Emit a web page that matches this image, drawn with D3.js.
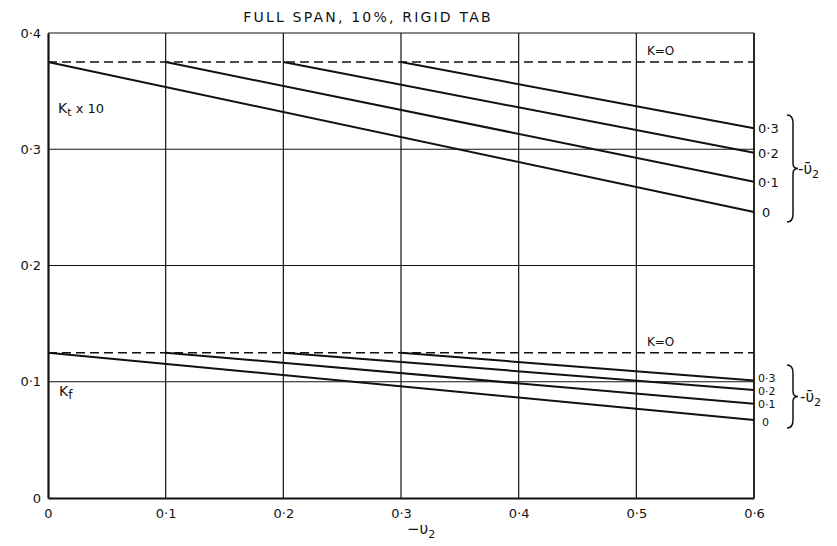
<!DOCTYPE html>
<html>
<head>
<meta charset="utf-8">
<script src="https://cdn.jsdelivr.net/npm/d3@7"></script>
<style>
  body { margin: 0; background: #fff; }
  text { font-family: "DejaVu Sans", sans-serif; fill: #111; }
</style>
</head>
<body>
<div id="chart"></div>
<script>
// Chart data
var xTicks = [0, 0.1, 0.2, 0.3, 0.4, 0.5, 0.6];
var yTicks = [0, 0.1, 0.2, 0.3, 0.4];
var tabValues = [0, 0.1, 0.2, 0.3];          // -v2 bar, where each line starts
var tabLabels = ["0", "0·1", "0·2", "0·3"];
var ktStart = 0.375;                          // Kt x 10, K = 0
var ktEnd = [0.246, 0.272, 0.297, 0.318];     // at -v2 = 0.6
var kfStart = 0.125;                          // Kf, K = 0
var kfEnd = [0.067, 0.081, 0.093, 0.101];     // at -v2 = 0.6
var xEndValue = 0.6;

var margin = {top: 33, right: 83, bottom: 48, left: 48},
    width = 837 - margin.left - margin.right,
    height = 546 - margin.top - margin.bottom;

var svg = d3.select("#chart")
  .append("svg")
    .attr("width", 837)
    .attr("height", 546)
  .append("g")
    .attr("transform", "translate(" + margin.left + "," + margin.top + ")");

var x = d3.scaleLinear().domain([0, 0.6]).range([0, width]);
var y = d3.scaleLinear().domain([0, 0.4]).range([height, 0]);

function fmt(d) { return d === 0 ? "0" : d3.format(".1f")(d).replace(".", "·"); }

// Title
svg.append("text")
  .attr("x", 320)
  .attr("y", -11)
  .attr("text-anchor", "middle")
  .style("font-size", "14px")
  .style("letter-spacing", "2.2px")
  .text("FULL SPAN, 10%, RIGID TAB");

// Grid lines
svg.append("g")
  .selectAll("line.vg")
  .data(xTicks.slice(1))
  .enter().append("line")
    .attr("x1", d => x(d)).attr("x2", d => x(d))
    .attr("y1", 0).attr("y2", height)
    .attr("stroke", "#111").attr("stroke-width", 1.2);

svg.append("g")
  .selectAll("line.hg")
  .data(yTicks.slice(1))
  .enter().append("line")
    .attr("x1", 0).attr("x2", width)
    .attr("y1", d => y(d)).attr("y2", d => y(d))
    .attr("stroke", "#111").attr("stroke-width", 1.2);

// Axes
var xAxis = svg.append("g")
  .attr("transform", "translate(0," + height + ")")
  .call(d3.axisBottom(x).tickValues(xTicks).tickSize(0).tickFormat(fmt));
xAxis.select(".domain").attr("stroke", "#111").attr("stroke-width", 2.2);
xAxis.selectAll("text").attr("dy", "1.3em").style("font-size", "13px");

var yAxis = svg.append("g")
  .call(d3.axisLeft(y).tickValues(yTicks).tickSize(0).tickFormat(fmt));
yAxis.select(".domain").attr("stroke", "#111").attr("stroke-width", 2.2);
yAxis.selectAll("text").attr("dx", "-0.3em").style("font-size", "13px");

// right border
svg.append("line")
  .attr("x1", width).attr("x2", width).attr("y1", 0).attr("y2", height)
  .attr("stroke", "#111").attr("stroke-width", 1.5);

// Axis title -v2
var xt = svg.append("text")
  .attr("x", x(0.305))
  .attr("y", height + 36)
  .style("font-size", "15px")
  .text("−υ");
xt.append("tspan").attr("dy", 4).style("font-size", "11px").text("2");

// Family names
var kt = svg.append("text")
  .attr("x", 10).attr("y", 80)
  .style("font-size", "14px")
  .text("K");
kt.append("tspan").attr("dy", 3).style("font-size", "11px").text("t");
kt.append("tspan").attr("dy", -3).style("font-size", "13px").text(" x 10");

var kf = svg.append("text")
  .attr("x", 11).attr("y", 363)
  .style("font-size", "14px")
  .text("K");
kf.append("tspan").attr("dy", 3).style("font-size", "12px").text("f");

// Dashed K = 0 lines
[ktStart, kfStart].forEach(function(v) {
  svg.append("line")
    .attr("x1", x(0)).attr("x2", x(xEndValue))
    .attr("y1", y(v)).attr("y2", y(v))
    .attr("stroke", "#111").attr("stroke-width", 1.6)
    .attr("stroke-dasharray", "9,5");
  svg.append("text")
    .attr("x", x(0.509))
    .attr("y", y(v) - 7)
    .style("font-size", "12px")
    .text("K=O");
});

// Family lines
function drawFamily(start, ends) {
  svg.append("g")
    .selectAll("line")
    .data(tabValues)
    .enter().append("line")
      .attr("x1", d => x(d))
      .attr("y1", y(start))
      .attr("x2", x(xEndValue))
      .attr("y2", (d, i) => y(ends[i]))
      .attr("stroke", "#111")
      .attr("stroke-width", 2);
}
drawFamily(ktStart, ktEnd);
drawFamily(kfStart, kfEnd);

// end labels
function endLabels(ends, size, offsets) {
  svg.append("g")
    .selectAll("text")
    .data(tabLabels)
    .enter().append("text")
      .attr("x", (d, i) => x(xEndValue) + (i === 0 ? 8 : 4))
      .attr("y", (d, i) => y(ends[i]) + offsets[i])
      .style("font-size", size)
      .text(d => d);
}
endLabels(ktEnd, "13px", [5, 5, 5, 5]);
endLabels(kfEnd, "11px", [6, 4, 5, 1]);

// Braces with -v2 bar labels
function brace(x0, y0, y1) {
  var ym = (y0 + y1) / 2;
  var w = 6;
  return "M" + x0 + "," + y0 +
    " Q" + (x0 + w) + "," + y0 + " " + (x0 + w) + "," + (y0 + 8) +
    " L" + (x0 + w) + "," + (ym - 5) +
    " Q" + (x0 + w) + "," + ym + " " + (x0 + w + 5) + "," + ym +
    " Q" + (x0 + w) + "," + ym + " " + (x0 + w) + "," + (ym + 5) +
    " L" + (x0 + w) + "," + (y1 - 8) +
    " Q" + (x0 + w) + "," + y1 + " " + x0 + "," + y1;
}
function braceLabel(bx, y0, y1, lx) {
  svg.append("path")
    .attr("d", brace(bx, y0, y1))
    .attr("fill", "none")
    .attr("stroke", "#111")
    .attr("stroke-width", 1.5);
  var ym = (y0 + y1) / 2;
  var t = svg.append("text")
    .attr("x", lx)
    .attr("y", ym + 5)
    .style("font-size", "15px")
    .text("-ῡ");
  t.append("tspan").attr("dy", 4).style("font-size", "11px").text("2");
}
braceLabel(width + 33, 82, 189, width + 44);
braceLabel(width + 33, 332, 395, width + 46);
</script>
</body>
</html>
